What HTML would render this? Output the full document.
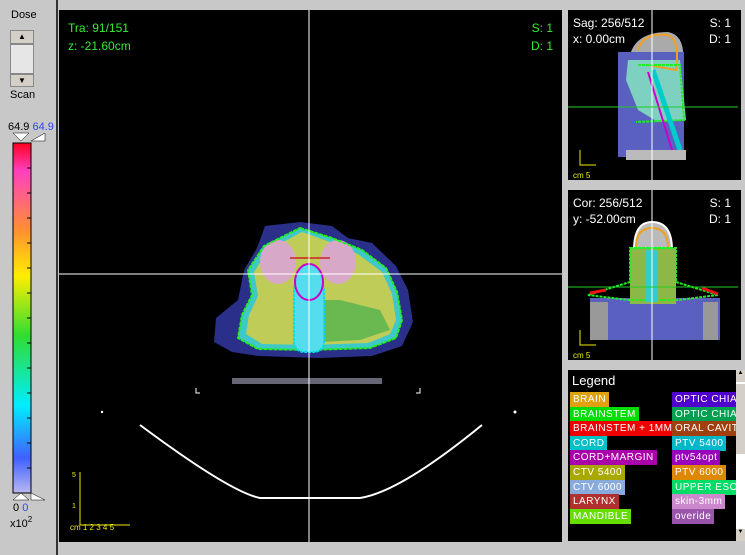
<!DOCTYPE html>
<html><head><meta charset="utf-8"><style>
body{margin:0;width:745px;height:555px;background:#c8c8c8;position:relative;overflow:hidden;font-family:"Liberation Sans",sans-serif}
.abs{position:absolute}
.t{position:absolute;font-size:12px;white-space:nowrap}
.lg{position:absolute;font-size:10px;color:#fff;height:15px;line-height:15px;padding:0 3px;letter-spacing:.5px;white-space:nowrap;overflow:hidden}
.btn{position:absolute;left:10px;width:24px;background:#d4d0c8;border:1px solid #888;box-sizing:border-box}
</style></head><body>
<div class="t" style="left:11px;top:9px;font-size:11px">Dose</div>
<div class="btn" style="top:30px;height:14px;text-align:center;font-size:8px;line-height:12px">▲</div>
<div class="btn" style="top:44px;height:30px;background:#e6e6e6"></div>
<div class="btn" style="top:74px;height:13px;text-align:center;font-size:8px;line-height:11px">▼</div>
<div class="t" style="left:10px;top:89px;font-size:11px">Scan</div>
<div class="abs" style="left:56px;top:0;width:2px;height:555px;background:#333"></div>
<div class="t" style="left:8px;top:121px;font-size:11px">64.9 <span style="color:#3344ee">64.9</span></div>
<svg class="abs" style="left:0;top:0" width="58" height="555">
<defs><linearGradient id="cb" x1="0" y1="0" x2="0" y2="1">
<stop offset="0" stop-color="#ff0020"/><stop offset="0.08" stop-color="#ff40c0"/><stop offset="0.25" stop-color="#ff9030"/><stop offset="0.38" stop-color="#ffee00"/><stop offset="0.55" stop-color="#30dd30"/><stop offset="0.75" stop-color="#00eeff"/><stop offset="0.9" stop-color="#4060ff"/><stop offset="1" stop-color="#b8b8f0"/></linearGradient></defs>
<polygon points="13,133 29,133 21,141" fill="#fff" stroke="#000" stroke-width="0.5"/>
<polygon points="31,141 45,133 45,141" fill="#fff" stroke="#000" stroke-width="0.5"/>
<rect x="13" y="143" width="18" height="350" fill="url(#cb)" stroke="#000"/>
<g id="cbt" stroke="#000"></g>
<polygon points="21,493 13,500 29,500" fill="#fff" stroke="#000" stroke-width="0.5"/>
<polygon points="31,493 45,500 31,500" fill="#fff" stroke="#000" stroke-width="0.5"/>
<text x="13" y="511" font-size="11" fill="#000">0 <tspan fill="#3344ee">0</tspan></text>
<text x="10" y="527" font-size="11">x10<tspan font-size="8" dy="-5">2</tspan></text>
</svg>

<svg class="abs" style="left:59px;top:10px" width="503" height="532">
<rect width="503" height="532" fill="#000"/>
<g transform="translate(-59,-10)">
<polygon points="265,226 300,222 332,226 348,238 372,243 396,266 408,290 413,322 402,346 372,356 320,358 258,356 232,352 214,342 216,318 238,300 244,270 257,248" fill="#2a2f8a"/>
<polygon points="300,228 332,238 362,250 386,268 397,292 402,320 396,338 370,348 310,350 258,349 238,338 242,315 252,295 248,270 264,246" fill="#3fc8c8"/>
<polygon points="302,232 330,242 358,254 382,272 392,294 396,320 390,334 368,343 310,345 262,344 246,334 249,315 258,296 254,272 268,250" fill="#c0cc58"/>
<polygon points="310,300 340,300 380,310 390,330 360,340 320,342" fill="#6ab850"/>
<ellipse cx="278" cy="262" rx="18" ry="22" fill="#d8a8c8"/>
<ellipse cx="338" cy="262" rx="18" ry="22" fill="#d8a8c8"/>
<polygon points="300,228 332,238 362,250 386,268 397,292 402,320 396,338 370,348 310,350 258,349 238,338 242,315 252,295 248,270 264,246" fill="none" stroke="#22ee22" stroke-width="2" stroke-dasharray="4 1"/>
<rect x="294" y="280" width="30" height="72" rx="10" fill="#55ddee" stroke="#00e0e0" stroke-width="2" stroke-dasharray="3 1"/>
<ellipse cx="309" cy="282" rx="14" ry="18" fill="#55ddee" stroke="#cc00cc" stroke-width="2"/>
<line x1="290" y1="258" x2="330" y2="258" stroke="#cc2222" stroke-width="1.5"/>
<rect x="232" y="378" width="150" height="6" fill="#667"/>
<path d="M140,425 Q230,492 260,498 L360,498 Q400,492 482,425" fill="none" stroke="#fff" stroke-width="2"/>
<path d="M196,388 v5 h4 M420,388 v5 h-4" stroke="#fff" fill="none"/>
<circle cx="102" cy="412" r="1.2" fill="#fff"/><circle cx="515" cy="412" r="1.5" fill="#fff"/>
<line x1="309" y1="10" x2="309" y2="542" stroke="#fff"/>
<line x1="59" y1="274" x2="562" y2="274" stroke="#fff"/>
<g stroke="#ee0" fill="none"><path d="M80,472 V525 H130"/></g>
<text x="70" y="530" font-size="8" fill="#ee0">cm 1 2 3 4 5</text>
<text x="72" y="477" font-size="7" fill="#ee0">5</text>
<text x="72" y="508" font-size="7" fill="#ee0">1</text>
<text x="68" y="32" font-size="12" fill="#33ee33">Tra: 91/151</text>
<text x="68" y="50" font-size="12" fill="#33ee33">z: -21.60cm</text>
<text x="553" y="32" font-size="12" fill="#33ee33" text-anchor="end">S: 1</text>
<text x="553" y="50" font-size="12" fill="#33ee33" text-anchor="end">D: 1</text>
</g></svg>

<svg class="abs" style="left:568px;top:10px" width="173" height="170">
<rect width="173" height="170" fill="#000"/>
<path d="M62,120 L62,45 Q68,22 100,22 Q118,25 115,55 L115,120 Z" fill="#aaa"/>
<rect x="50" y="42" width="66" height="105" fill="#5a60c0"/>
<polygon points="60,50 112,50 118,110 90,112 70,100 58,70" fill="#7ed0c0"/>
<path d="M70,40 Q75,22 100,25 Q112,30 108,60 L80,55" fill="none" stroke="#f0a020" stroke-width="2"/>
<path d="M70,55 L112,55 L116,110 L68,112" fill="none" stroke="#22ee22" stroke-width="2" stroke-dasharray="3 1"/>
<path d="M85,60 L112,140" stroke="#00cccc" stroke-width="5"/>
<path d="M80,62 L104,140" stroke="#cc00cc" stroke-width="2"/>
<rect x="58" y="140" width="60" height="10" fill="#bbb"/>
<line x1="84" y1="0" x2="84" y2="170" stroke="#fff"/>
<line x1="0" y1="97" x2="170" y2="97" stroke="#22cc22"/>
<path d="M12,140 V155 H28" stroke="#ee0" fill="none"/>
<text x="5" y="168" font-size="8" fill="#ee0">cm 5</text>
<text x="5" y="17" font-size="12" fill="#fff">Sag: 256/512</text>
<text x="5" y="33" font-size="12" fill="#fff">x: 0.00cm</text>
<text x="163" y="17" font-size="12" fill="#fff" text-anchor="end">S: 1</text>
<text x="163" y="33" font-size="12" fill="#fff" text-anchor="end">D: 1</text>
</svg>

<svg class="abs" style="left:568px;top:190px" width="173" height="170">
<rect width="173" height="170" fill="#000"/>
<rect x="22" y="108" width="130" height="42" fill="#5a60c0"/>
<rect x="22" y="112" width="18" height="38" fill="#999"/>
<rect x="135" y="112" width="15" height="38" fill="#999"/>
<path d="M66,60 Q66,32 84,32 Q104,32 104,60 Z" fill="#bbb" stroke="#fff" stroke-width="2"/>
<rect x="62" y="58" width="46" height="56" fill="#8cb848"/>
<path d="M68,58 Q68,38 84,38 Q100,38 100,58" fill="none" stroke="#f0a020" stroke-width="2"/>
<polygon points="62,58 108,58 108,92 150,105 110,110 60,110 20,105 62,92" fill="none" stroke="#22ee22" stroke-width="2" stroke-dasharray="3 1"/>
<rect x="78" y="60" width="12" height="52" fill="#33cccc"/>
<path d="M22,103 L38,100 M134,98 L150,104" stroke="#ee1111" stroke-width="3"/>
<line x1="84" y1="0" x2="84" y2="170" stroke="#fff"/>
<line x1="0" y1="97" x2="170" y2="97" stroke="#22cc22"/>
<path d="M12,140 V155 H28" stroke="#ee0" fill="none"/>
<text x="5" y="168" font-size="8" fill="#ee0">cm 5</text>
<text x="5" y="17" font-size="12" fill="#fff">Cor: 256/512</text>
<text x="5" y="33" font-size="12" fill="#fff">y: -52.00cm</text>
<text x="163" y="17" font-size="12" fill="#fff" text-anchor="end">S: 1</text>
<text x="163" y="33" font-size="12" fill="#fff" text-anchor="end">D: 1</text>
</svg>

<div class="abs" style="left:568px;top:370px;width:168px;height:171px;background:#000;overflow:hidden">
<div class="t" style="left:4px;top:3px;color:#fff;font-size:13px">Legend</div>
<div id="lgl"></div>
</div>
<div class="abs" style="left:736px;top:370px;width:9px;height:171px;background:#fff">
<div class="abs" style="left:0;top:0;width:9px;height:12px;background:#d4d0c8;font-size:6px;text-align:center">▲</div>
<div class="abs" style="left:0;top:14px;width:9px;height:70px;background:#d4d0c8"></div>
<div class="abs" style="left:0;top:159px;width:9px;height:12px;background:#d4d0c8;font-size:6px;text-align:center">▼</div>
</div>
<script>
const cbTicks=[0,1,2,3,4,5,6,7,8,9,10,11,12,13];
const g=document.getElementById('cbt');
cbTicks.forEach(v=>{const y=493-v*350/cbTicks.length;const l=document.createElementNS('http://www.w3.org/2000/svg','line');


l.setAttribute('x1',27);l.setAttribute('x2',31);l.setAttribute('y1',y);l.setAttribute('y2',y);g.appendChild(l);});
const leftNames=["BRAIN","BRAINSTEM","BRAINSTEM + 1MM","CORD","CORD+MARGIN","CTV 5400","CTV 6000","LARYNX","MANDIBLE"];
const leftColors=["#e0a010","#00dd00","#ee0000","#00c0c8","#aa00aa","#a8a800","#88aadd","#b03030","#66dd00"];
const rightNames=["OPTIC CHIASM","OPTIC CHIASM","ORAL CAVITY","PTV 5400","ptv54opt","PTV 6000","UPPER ESOP","skin-3mm","overide"];
const rightColors=["#5000cc","#00a050","#a04010","#00b8c8","#9900bb","#dd8800","#00dd66","#cc88cc","#9955aa"];
const box=document.getElementById('lgl');
function add(n,c,x,i){const d=document.createElement('div');d.className='lg';


d.style.left=x+'px';d.style.top=(22+i*14.6)+'px';d.style.background=c;d.textContent=n;
if(x>50){d.style.maxWidth='62px';}box.appendChild(d);}
leftNames.forEach((n,i)=>add(n,leftColors[i],2,i));
rightNames.forEach((n,i)=>add(n,rightColors[i],104,i));
</script>
</body></html>
